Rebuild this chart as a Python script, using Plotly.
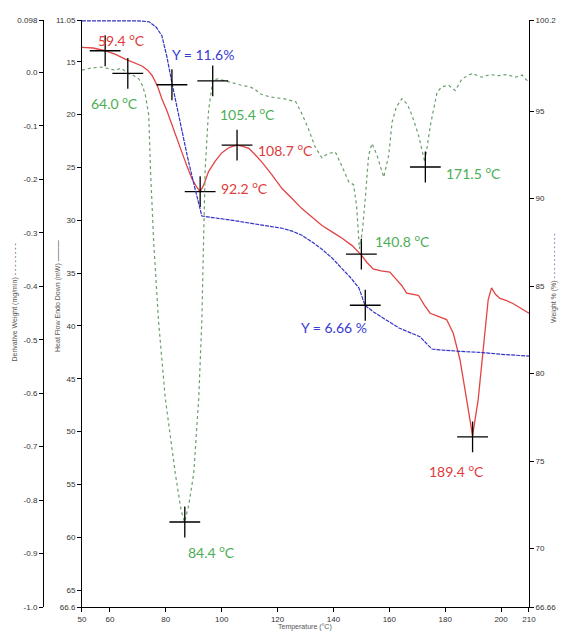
import plotly.graph_objects as go

# ── Data ─────────────────────────────────────────────────────────
temp_hf = [50, 54, 58.3, 62, 65.5, 68.5, 71.5, 73.5, 75.1, 77, 78.6, 80.5, 82.2, 84, 85.8,
           87.6, 89.4, 90.9, 92.3, 93.5, 95.3, 97.7, 100.1, 102.8, 105.5, 107.6, 109.7, 112,
           114.4, 118, 121.6, 125, 128.7, 132.3, 135.9, 139.5, 143.1, 146.7, 150, 152, 154.2,
           157, 160.2, 162.5, 164.5, 166.2, 168.5, 170.4, 172.5, 174.6, 177.5, 180.5, 182.9,
           185.3, 187.7, 189.8, 191.8, 193.6, 195.4, 196.6, 198, 199.6, 202, 204.4, 207, 210]
heat_flow = [13.65, 13.7, 13.96, 14.3, 14.75, 15.05, 15.4, 15.8, 16.3, 17.3, 18.5, 19.7, 21.0,
             22.3, 23.6, 24.9, 26.1, 26.8, 27.3, 26.7, 25.4, 24.4, 23.6, 23.1, 22.9, 23.0, 23.2,
             23.8, 24.5, 25.7, 27.0, 27.9, 28.9, 29.7, 30.5, 31.1, 31.7, 32.4, 33.3, 34.0, 34.6,
             34.8, 34.9, 35.6, 36.2, 36.9, 37.0, 37.1, 38.0, 38.8, 39.1, 39.4, 40.7, 43.2, 47.0,
             50.4, 47.0, 42.3, 37.5, 36.4, 37.0, 37.4, 37.6, 37.9, 38.3, 38.8]

temp_wt = [50, 60, 70, 74, 76.5, 78.6, 80.4, 82.2, 84, 85.8, 88, 90.4, 92.9, 95, 97.6, 104,
           109.8, 116, 121.6, 125, 128.7, 132.5, 135.9, 139.5, 143.1, 146, 149.1, 151.3, 154.5,
           157.4, 160.5, 163.5, 166.5, 169.2, 171, 172.8, 175.3, 178, 181.4, 187, 193.2, 200, 210]
weight = [100.15, 100.15, 100.15, 100.1, 99.8, 99.3, 98.1, 96.6, 95.2, 93.7, 92.2, 90.6, 89.0,
          88.95, 88.9, 88.75, 88.6, 88.45, 88.3, 88.15, 87.9, 87.5, 87.1, 86.6, 86.0, 85.5, 84.9,
          83.9, 83.5, 83.2, 82.9, 82.6, 82.4, 82.2, 82.1, 81.8, 81.4, 81.35, 81.3, 81.25, 81.2,
          81.1, 81.0]

temp_dw = [50, 53, 57, 60, 62, 64, 66.4, 68.5, 70.3, 71.7, 72.7, 73.9, 74.5, 75.7, 77.4, 79.8,
           83.4, 85.5, 86.7, 88.2, 90, 91.8, 92.9, 93.5, 94.1, 95.3, 96.8, 98.5, 100.6, 104.2,
           107, 110.1, 112, 113.7, 117.3, 122, 126.5, 128.5, 131, 133.5, 135.9, 138, 140.7,
           143, 145.5, 147.2, 148.3, 149.3, 150.3, 151.4, 152.6, 153.8, 155.6, 158, 159.8, 161,
           162.5, 164.5, 166.5, 168.1, 170.5, 172.7, 174.7, 177.1, 178.8, 181.2, 183.6, 186,
           189.6, 193.2, 196, 199.1, 202, 205.1, 207.5, 209.3, 210]
deriv_wt = [0.004, 0.008, 0.01, 0.006, 0.004, 0.008, -0.002, -0.006, -0.012, -0.025, -0.043,
            -0.08, -0.18, -0.32, -0.465, -0.609, -0.75, -0.82, -0.841, -0.81, -0.75, -0.609,
            -0.465, -0.32, -0.18, -0.072, -0.015, -0.012, -0.015, -0.021, -0.024, -0.027, -0.032,
            -0.04, -0.046, -0.049, -0.055, -0.075, -0.105, -0.14, -0.16, -0.152, -0.149, -0.175,
            -0.205, -0.21, -0.25, -0.33, -0.30, -0.236, -0.155, -0.133, -0.155, -0.196, -0.155,
            -0.093, -0.065, -0.049, -0.06, -0.08, -0.118, -0.168, -0.099, -0.037, -0.027, -0.024,
            -0.034, -0.012, -0.002, -0.009, -0.004, -0.006, -0.004, -0.009, -0.005, -0.015, -0.012]

# peak cursors (crosshairs) on each curve
hf_mark_T = [58.3, 92.3, 105.5, 150.0, 189.8]
hf_mark_v = [13.96, 27.3, 22.9, 33.2, 50.5]
dw_mark_T = [66.4, 96.8, 86.8, 172.9]
dw_mark_v = [-0.002, -0.016, -0.841, -0.177]
wt_mark_T = [82.2, 151.4]
wt_mark_v = [96.5, 83.9]

x_ticks = [50, 60, 80, 100, 120, 140, 160, 180, 200, 210]
hf_ticks = [11.05, 15, 20, 25, 30, 35, 40, 45, 50, 55, 60, 65, 66.6]
hf_ticktext = ["11.05", "15", "20", "25", "30", "35", "40", "45", "50", "55", "60", "65", "66.6"]
dw_ticks = [0.098, 0.0, -0.1, -0.2, -0.3, -0.4, -0.5, -0.6, -0.7, -0.8, -0.9, -1.0]
dw_ticktext = ["0.098", "0.0", "-0.1", "-0.2", "-0.3", "-0.4", "-0.5", "-0.6", "-0.7", "-0.8",
               "-0.9", "-1.0"]
wt_ticks = [66.66, 70, 75, 80, 85, 90, 95, 100.2]
wt_ticktext = ["66.66", "70", "75", "80", "85", "90", "95", "100.2"]

RED, GREEN, BLUE = "#e24444", "#6a9e6a", "#3434c4"
RED_T, GREEN_T, BLUE_T = "#e03c3c", "#4cae55", "#3a3ad0"

fig = go.Figure()
fig.add_trace(go.Scatter(x=temp_dw, y=deriv_wt, yaxis="y2", mode="lines",
                         line=dict(color=GREEN, width=1.2, dash="dot")))
fig.add_trace(go.Scatter(x=temp_wt, y=weight, yaxis="y3", mode="lines",
                         line=dict(color=BLUE, width=1.2, dash="4px,1px")))
fig.add_trace(go.Scatter(x=temp_hf, y=heat_flow, yaxis="y", mode="lines",
                         line=dict(color=RED, width=1.3)))

cross = dict(symbol="cross-thin", size=22, line=dict(color="black", width=1.3))
fig.add_trace(go.Scatter(x=hf_mark_T, y=hf_mark_v, yaxis="y", mode="markers", marker=cross))
fig.add_trace(go.Scatter(x=dw_mark_T, y=dw_mark_v, yaxis="y2", mode="markers", marker=cross))
fig.add_trace(go.Scatter(x=wt_mark_T, y=wt_mark_v, yaxis="y3", mode="markers", marker=cross))

tick_font = dict(family="Liberation Sans", size=8, color="#333")
axis_common = dict(showgrid=False, zeroline=False, showline=True, linecolor="black",
                   linewidth=1, ticks="outside", ticklen=4, tickcolor="black",
                   tickfont=tick_font, automargin=False)

# ── Peak labels ─────────────────────────────────────────────────
labels = [
    ("59.4 <sup>o</sup>C", 64.3, 0.966, RED_T),
    ("64.0 <sup>o</sup>C", 61.8, 0.859, GREEN_T),
    ("Y = 11.6%", 93.3, 0.942, BLUE_T),
    ("105.4 <sup>o</sup>C", 109.4, 0.840, GREEN_T),
    ("108.7 <sup>o</sup>C", 123.0, 0.779, RED_T),
    ("92.2 <sup>o</sup>C", 108.0, 0.714, RED_T),
    ("140.8 <sup>o</sup>C", 164.9, 0.625, GREEN_T),
    ("171.5 <sup>o</sup>C", 190.0, 0.741, GREEN_T),
    ("Y = 6.66 %", 140.2, 0.477, BLUE_T),
    ("189.4 <sup>o</sup>C", 183.9, 0.233, RED_T),
    ("84.4 <sup>o</sup>C", 96.5, 0.094, GREEN_T),
]
ann = [dict(text=t, x=x, y=y, xref="x", yref="paper", showarrow=False,
            xanchor="center", yanchor="middle",
            font=dict(family="Lato", size=14, color=c)) for t, x, y, c in labels]

# axis titles
ttl = dict(family="Liberation Sans", size=7, color="#555")
side = dict(xref="paper", yref="paper", textangle=-90, showarrow=False,
            xanchor="center", yanchor="middle", font=ttl)
ann += [
    dict(side, text="Derivative Weight (mg/min) <span style='color:#222'>- - - - - - - -</span>",
         x=-0.058, y=0.52),
    dict(side, text="Heat Flow Endo Down (mW) <span style='color:#222'>———</span>",
         x=0.031, y=0.53),
    dict(side, text="Weight % (%) <span style='color:#2222aa'>- - - - - - - - - - -</span>",
         x=1.053, y=0.56),
    dict(text="Temperature (°C)", x=0.54, y=-0.034, xref="paper", yref="paper",
         xanchor="center", yanchor="middle", showarrow=False, font=ttl),
]

fig.update_layout(
    template="none",
    width=563, height=635,
    margin=dict(l=43, r=34, t=20, b=28, autoexpand=False),
    plot_bgcolor="white", paper_bgcolor="white",
    showlegend=False,
    xaxis=dict(axis_common, domain=[0.0802, 1], range=[50, 210],
               tickvals=x_ticks, ticktext=[str(v) for v in x_ticks]),
    yaxis=dict(axis_common, range=[66.6, 11.05], tickvals=hf_ticks, ticktext=hf_ticktext,
               anchor="x", side="left"),
    yaxis2=dict(axis_common, range=[-1.0, 0.098], tickvals=dw_ticks, ticktext=dw_ticktext,
                overlaying="y", anchor="free", position=0, side="left"),
    yaxis3=dict(axis_common, range=[66.66, 100.2], tickvals=wt_ticks, ticktext=wt_ticktext,
                overlaying="y", anchor="x", side="right"),
    annotations=ann,
)

# drop the page's default body margin so the figure sits at the window's corner
fig.write_html("out.html", config={"displayModeBar": False},
               post_script="document.body.style.margin='0';"
                           "document.documentElement.style.overflow='hidden';")
